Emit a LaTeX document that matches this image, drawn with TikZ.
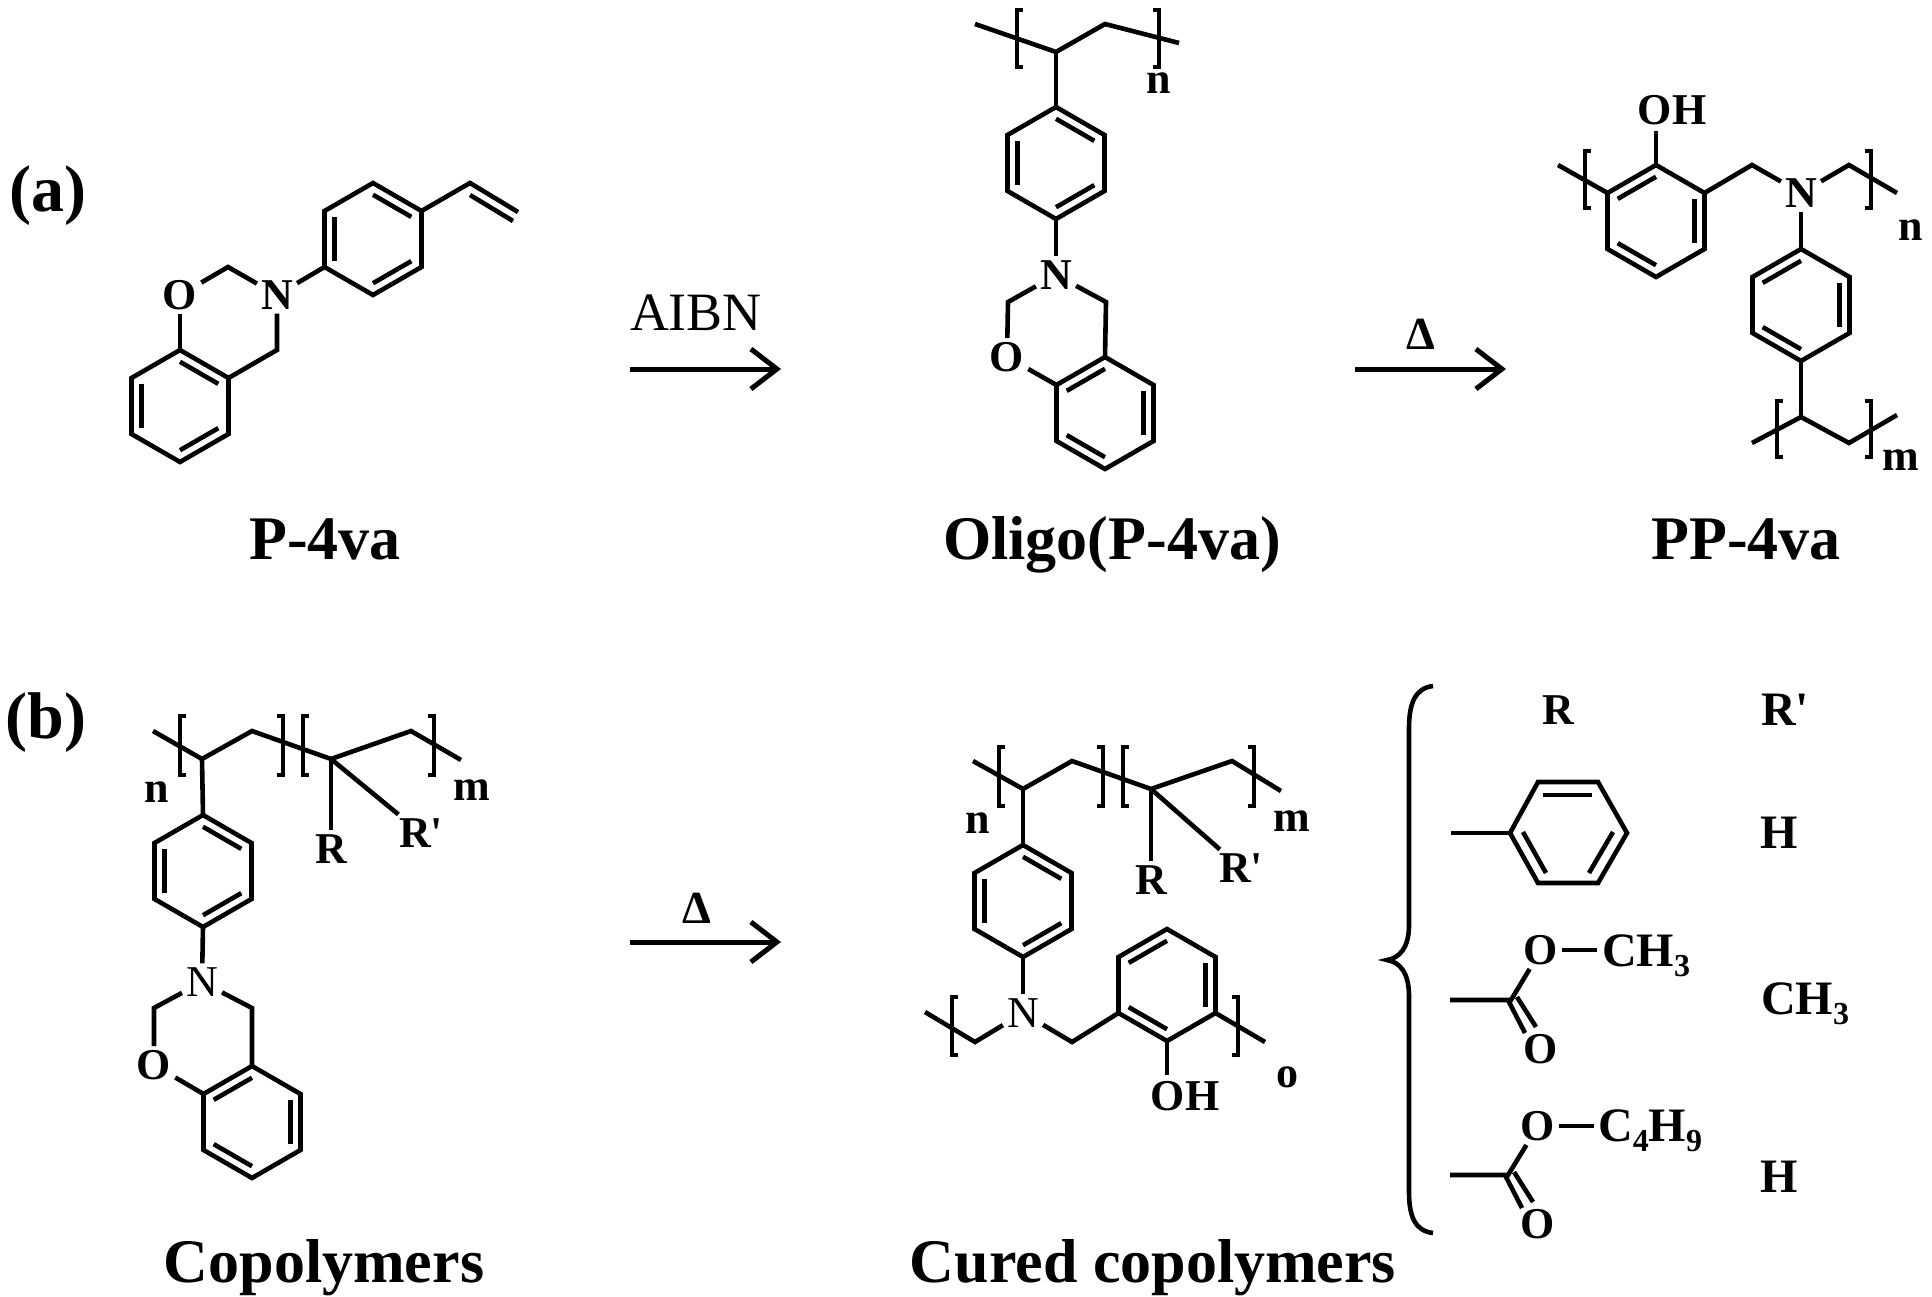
\documentclass[tikz,border=0pt]{standalone}
\usepackage{fontspec}
\setmainfont{Liberation Serif}
\usetikzlibrary{arrows.meta}
\usetikzlibrary{calc}

\newcommand{\atomfont}{\fontsize{44}{44}\bfseries\selectfont}
\newcommand{\namefont}{\fontsize{62}{62}\bfseries\selectfont}
\newcommand{\sbs}[1]{\raisebox{-.22em}{\fontsize{32}{32}\selectfont #1}}

\tikzset{
    bond/.style={line width=4.6pt, line join=miter},
    atom/.style={font=\atomfont, inner sep=4pt},
    groupatom/.style={font=\fontsize{48}{48}\bfseries\selectfont, anchor=base west, inner sep=0pt},
    polyidx/.style={font=\atomfont, inner sep=0pt},
    nameplate/.style={font=\namefont, anchor=base, inner sep=0pt},
    reagent/.style={anchor=base, inner sep=0pt},
    reactarrow/.style={line width=5pt, -{Straight Barb[length=26pt,width=40pt,line width=5pt]}}
}

% name, centre x, centre y, inner double bonds
\newcommand{\benzring}[4]{
    \coordinate (#1) at (#2,#3);
    \foreach \i in {1,...,6}
        \coordinate (#1\i) at ({#2+56*cos(60*\i-30)},{#3+56*sin(60*\i-30)});
    \draw[bond] (#11) -- (#12) -- (#13) -- (#14) -- (#15) -- (#16) -- cycle;
    \foreach \i in {#4} {
        \pgfmathtruncatemacro{\j}{mod(\i,6)+1}
        \draw[bond] ($(#1)!.79!(#1\i)$) -- ($(#1)!.79!(#1\j)$);
    }
}
% x, top, bottom
\newcommand{\openbr}[3]{\draw[bond] (#1+6,#2) -- (#1,#2) -- (#1,#3) -- (#1+6,#3);}
\newcommand{\closebr}[3]{\draw[bond] (#1-6,#2) -- (#1,#2) -- (#1,#3) -- (#1-6,#3);}

\begin{document}
\begin{tikzpicture}[x=1pt, y=-1pt]
    \useasboundingbox (0,0) rectangle (1932,1297);

    \node[nameplate, font=\fontsize{66}{66}\bfseries\selectfont] (parta) at (48,212) {(a)};
    \node[nameplate, font=\fontsize{66}{66}\bfseries\selectfont] (partb) at (46,738) {(b)};

    % P-4va
    \benzring{mona}{180}{406}{1,3,5}
    \benzring{monb}{373}{239}{1,3,5}
    \node[atom] (mono) at (180,295) {O};
    \node[atom] (monn) at (277,295) {N};
    \coordinate (monc) at (228,267);
    \coordinate (mond) at (277,350);
    \coordinate (monv) at (470,183);
    \coordinate (monw) at (518,212);
    \coordinate (monx) at (470,195);
    \coordinate (mony) at (513,221);
    \draw[bond] (mono) -- (mona5);
    \draw[bond] (mono) -- (monc) -- (monn);
    \draw[bond] (monn) -- (mond) -- (mona6);
    \draw[bond] (monn) -- (monb3);
    \draw[bond] (monb6) -- (monv) -- (monw);
    \draw[bond] (monx) -- (mony);
    \node[nameplate] (monname) at (325,559) {P-4va};

    % AIBN step
    \node[reagent, font=\fontsize{54}{54}\selectfont] (aibn) at (696,330) {AIBN};
    \coordinate (arra) at (630,369);
    \coordinate (arrb) at (781,369);
    \draw[reactarrow] (arra) -- (arrb);

    % Oligo(P-4va)
    \benzring{olia}{1056}{163}{1,3,5}
    \benzring{olib}{1105}{413}{2,4,6}
    \coordinate (olil) at (975,24);
    \coordinate (olich) at (1056,52);
    \coordinate (olich2) at (1105,24);
    \coordinate (olir) at (1179,43);
    \draw[bond] (olil) -- (olich) -- (olich2) -- (olir);
    \draw[bond] (olich) -- (olia5);
    \openbr{1017}{10}{67}
    \closebr{1159}{10}{67}
    \node[polyidx] (olin) at (1159,83) {n};
    \node[atom] (olinn) at (1056,275) {N};
    \node[atom] (olio) at (1007,357) {O};
    \coordinate (olic) at (1008,302);
    \coordinate (olid) at (1106,302);
    \draw[bond] (olia2) -- (olinn);
    \draw[bond] (olinn) -- (olic) -- (olio);
    \draw[bond] (olinn) -- (olid) -- (olib5);
    \draw[bond] (olio) -- (olib4);
    \node[nameplate] (oliname) at (1112,559) {Oligo(P-4va)};

    % heat step
    \node[reagent, font=\fontsize{46}{46}\bfseries\selectfont] (heata) at (1421,349) {Δ};
    \coordinate (arrc) at (1355,369);
    \coordinate (arrd) at (1506,369);
    \draw[reactarrow] (arrc) -- (arrd);

    % PP-4va
    \benzring{ppa}{1656}{221}{2,4,6}
    \benzring{ppb}{1801}{305}{2,4,6}
    \node[atom, inner sep=0pt] (ppoh) at (1672,110) {OH};
    \node[atom] (ppn) at (1801,193) {N};
    \coordinate (ppl) at (1558,165);
    \coordinate (ppc) at (1752,165);
    \coordinate (ppd) at (1849,165);
    \coordinate (ppr) at (1897,193);
    \coordinate (ppoe) at (1656,131);
    \draw[bond] (ppa5) -- (ppoe);
    \draw[bond] (ppl) -- (ppa4);
    \draw[bond] (ppa6) -- (ppc) -- (ppn);
    \draw[bond] (ppn) -- (ppd) -- (ppr);
    \draw[bond] (ppn) -- (ppb5);
    \openbr{1585}{151}{208}
    \closebr{1871}{151}{208}
    \node[polyidx] (ppidn) at (1911,230) {n};
    \coordinate (ppch) at (1801,417);
    \coordinate (ppll) at (1752,443);
    \coordinate (ppch2) at (1849,443);
    \coordinate (pprr) at (1897,415);
    \draw[bond] (ppb2) -- (ppch);
    \draw[bond] (ppll) -- (ppch) -- (ppch2) -- (pprr);
    \openbr{1777}{401}{457}
    \closebr{1871}{401}{457}
    \node[polyidx] (ppidm) at (1901,460) {m};
    \node[nameplate] (ppname) at (1746,559) {PP-4va};

    % Copolymers
    \benzring{copa}{203}{871}{1,3,5}
    \benzring{copb}{252}{1122}{2,4,6}
    \coordinate (copl) at (153,731);
    \coordinate (copch) at (202,759);
    \coordinate (copd) at (252,731);
    \coordinate (copq) at (331,759);
    \coordinate (cope) at (411,731);
    \coordinate (copr) at (461,760);
    \draw[bond] (copl) -- (copch) -- (copd) -- (copq) -- (cope) -- (copr);
    \draw[bond] (copch) -- (copa5);
    \openbr{180}{716}{775}
    \closebr{283}{716}{775}
    \openbr{303}{716}{775}
    \closebr{434}{716}{775}
    \node[polyidx] (copidn) at (157,792) {n};
    \node[polyidx] (copidm) at (472,790) {m};
    \node[atom] (copra) at (331,849) {R};
    \node[atom] (coprb) at (421,833) {R\textquotesingle};
    \draw[bond] (copq) -- (copra);
    \draw[bond] (copq) -- (coprb);
    \node[atom, font=\fontsize{44}{44}\selectfont] (copn) at (202,982) {N};
    \node[atom] (copo) at (154,1065) {O};
    \coordinate (copf) at (154,1008);
    \coordinate (copg) at (252,1008);
    \draw[bond] (copa2) -- (copn);
    \draw[bond] (copn) -- (copf) -- (copo);
    \draw[bond] (copn) -- (copg) -- (copb5);
    \draw[bond] (copo) -- (copb4);
    \node[nameplate] (copname) at (324,1282) {Copolymers};

    % heat step, lower row
    \node[reagent, font=\fontsize{46}{46}\bfseries\selectfont] (heatb) at (697,923) {Δ};
    \coordinate (arre) at (630,942);
    \coordinate (arrf) at (781,942);
    \draw[reactarrow] (arre) -- (arrf);

    % Cured copolymers
    \benzring{cura}{1023}{901}{1,3,5}
    \benzring{curb}{1167}{985}{2,4,6}
    \coordinate (curl) at (973,761);
    \coordinate (curch) at (1023,789);
    \coordinate (curd) at (1072,761);
    \coordinate (curq) at (1151,789);
    \coordinate (cure) at (1232,761);
    \coordinate (curr) at (1281,791);
    \draw[bond] (curl) -- (curch) -- (curd) -- (curq) -- (cure) -- (curr);
    \draw[bond] (curch) -- (cura5);
    \openbr{999}{747}{806}
    \closebr{1103}{747}{806}
    \openbr{1123}{747}{806}
    \closebr{1254}{747}{806}
    \node[polyidx] (curidn) at (978,823) {n};
    \node[polyidx] (curidm) at (1292,821) {m};
    \node[atom] (curra) at (1151,880) {R};
    \node[atom] (currb) at (1241,868) {R\textquotesingle};
    \draw[bond] (curq) -- (curra);
    \draw[bond] (curq) -- (currb);
    \node[atom, font=\fontsize{44}{44}\selectfont] (curn) at (1023,1013) {N};
    \coordinate (curf) at (975,1042);
    \coordinate (curg) at (925,1012);
    \coordinate (curh) at (1072,1042);
    \coordinate (curi) at (1265,1042);
    \coordinate (curoe) at (1167,1075);
    \draw[bond] (cura2) -- (curn);
    \draw[bond] (curn) -- (curf) -- (curg);
    \draw[bond] (curn) -- (curh) -- (curb3);
    \draw[bond] (curb1) -- (curi);
    \draw[bond] (curb2) -- (curoe);
    \openbr{952}{997}{1055}
    \closebr{1238}{997}{1055}
    \node[atom, inner sep=0pt] (curoh) at (1185,1096) {OH};
    \node[polyidx] (curido) at (1287,1077) {o};
    \node[nameplate] (curname) at (1153,1282) {Cured copolymers};

    % substituent table
    \coordinate (brt) at (1433,686);
    \coordinate (brm) at (1387,960);
    \coordinate (brb) at (1433,1233);
    \draw[bond] (brt) .. controls (1416,688) and (1409,702) .. (1409,728) -- (1409,925)
        .. controls (1409,947) and (1400,958) .. (brm)
        .. controls (1400,962) and (1409,973) .. (1409,996) -- (1409,1192)
        .. controls (1409,1218) and (1416,1231) .. (brb);
    \node[atom] (headr) at (1558,710) {R};
    \node[atom, font=\fontsize{48}{48}\bfseries\selectfont] (headrp) at (1785,710) {R\textquotesingle};

    \coordinate (pha) at (1510,833);
    \coordinate (phb) at (1538,782);
    \coordinate (phc) at (1598,782);
    \coordinate (phd) at (1627,833);
    \coordinate (phe) at (1598,883);
    \coordinate (phf) at (1538,883);
    \coordinate (phs) at (1451,833);
    \draw[bond] (pha) -- (phb) -- (phc) -- (phd) -- (phe) -- (phf) -- cycle;
    \draw[bond] (phs) -- (pha);
    \draw[bond] (1543,795) -- (1592,795);
    \draw[bond] (1523,832) -- (1546,873);
    \draw[bond] (1589,873) -- (1613,832);
    \node[atom, font=\fontsize{48}{48}\bfseries\selectfont] (rowah) at (1779,833) {H};

    \node[atom] (esta) at (1541,950) {O};
    \node[atom] (estb) at (1541,1049) {O};
    \node[groupatom] (estme) at (1602,966) {CH\sbs{3}};
    \coordinate (estc) at (1511,1000);
    \coordinate (estd) at (1450,1000);
    \draw[bond] (estd) -- (estc) -- (esta);
    \draw[bond] (esta) -- (1597,950);
    \draw[bond] (1508,1000) -- (1525,1033);
    \draw[bond] (1517,997) -- (1536,1027);
    \node[groupatom] (rowbme) at (1761,1014) {CH\sbs{3}};

    \node[atom] (estf) at (1538,1126) {O};
    \node[atom] (estg) at (1538,1224) {O};
    \node[groupatom] (estbu) at (1598,1141) {C\sbs{4}H\sbs{9}};
    \coordinate (esth) at (1508,1175);
    \coordinate (esti) at (1450,1175);
    \draw[bond] (esti) -- (esth) -- (estf);
    \draw[bond] (estf) -- (1594,1126);
    \draw[bond] (1505,1175) -- (1522,1208);
    \draw[bond] (1514,1172) -- (1533,1202);
    \node[atom, font=\fontsize{48}{48}\bfseries\selectfont] (rowch) at (1779,1177) {H};
\end{tikzpicture}
\end{document}
